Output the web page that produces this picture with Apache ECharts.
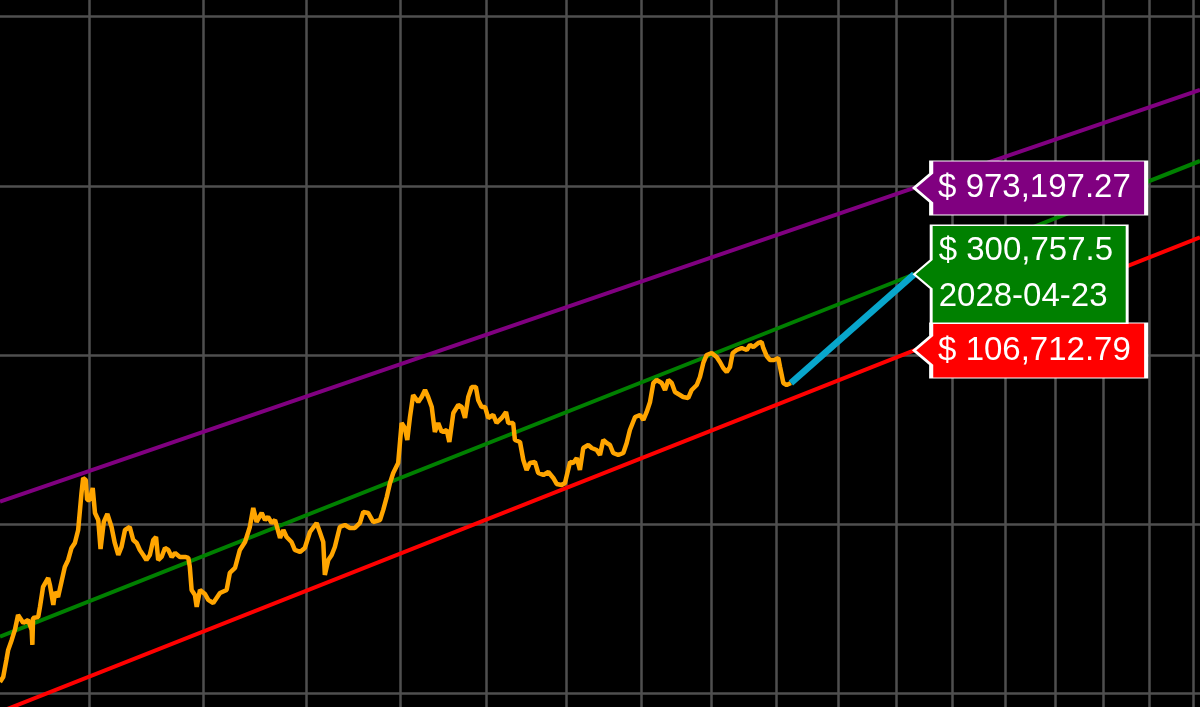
<!DOCTYPE html>
<html>
<head>
<meta charset="utf-8">
<script src="https://cdn.jsdelivr.net/npm/echarts@6/dist/echarts.min.js"></script>
<style>
html,body{margin:0;padding:0;background:#000;}
#chart{width:1200px;height:707px;}
</style>
</head>
<body>
<div id="chart"></div>
<script>
// ---------- data ----------
const GENESIS = '2009-01-03';
// days since genesis block, and BTC price (USD)
const priceDays = [3025,3034,3043,3048,3058,3067,3076,3081,3091,3105,3115,3117,3119,3134,3139,3148,3163,3168,3178,3183,
3192,3202,3212,3222,3232,3242,3252,3262,3267,3275,3279,3287,3296,3303,3313,3320,3330,3341,3354,3364,
3375,3385,3396,3411,3422,3433,3443,3454,3464,3475,3486,3495,3502,3513,3524,3535,3546,3557,3573,3590,
3601,3606,3612,3623,3629,3640,3657,3668,3685,3708,3731,3742,3760,3777,3795,3812,3824,3836,3854,3866,
3877,3890,3902,3920,3932,3944,3962,3974,3993,4011,4030,4055,4067,4080,4086,4099,4112,4124,4143,4163,
4182,4201,4221,4234,4253,4273,4300,4313,4327,4340,4353,4373,4387,4400,4410,4421,4434,4455,4469,4483,
4496,4511,4524,4538,4553,4574,4585,4602,4623,4638,4652,4666,4681,4699,4709,4724,4739,4753,4775,4790,
4813,4832,4842,4864,4872,4895,4910,4925,4940,4963,4978,5002,5025,5048,5064,5087,5103,5127,5142,5159,
5174,5190,5214,5231,5255,5271,5287,5304,5320,5336,5361,5386,5403,5419,5445,5470,5487,5504,5521,5538,
5555,5581,5598,5615,5633,5650,5676,5693,5720,5738,5765,5782,5800,5818,5845,5872,5890,5908,5927,5945,
5960,5982,6010,6038,6056,6075,6103,6122,6131,6150,6169,6192,6217,6227,6246,6265,6290];
const priceUsd = [1173,1255,1582,1812,2077,2380,2917,2840,2617,2726,2380,1940,2800,2840,3255,4270,4825,4390,3345,3990,
3725,4570,5605,6165,7260,7770,9270,15340,18810,18310,13950,13950,16420,11690,10620,7160,10340,11530,9660,7770,
6600,7360,9270,9660,8095,7770,7065,6600,6165,6600,8095,8430,6165,6425,7260,7065,6425,6780,6425,6425,
6335,5605,4100,3830,3255,4100,3880,3580,3435,3935,4100,5165,5530,7065,7875,9660,12510,10340,11690,10620,
11070,10200,10620,8320,9270,8430,7875,7065,6875,7260,9020,10200,9020,7875,5025,6165,6600,7360,9660,9925,
9530,9530,10200,11850,11690,10340,10620,12180,14530,17575,20140,23070,39760,37140,31550,43140,58190,52910,56630,62290,
56630,49430,35170,39760,35170,36140,30700,45550,50790,49430,42555,56630,64885,64885,54370,49430,49430,42555,44330,39760,
42555,46170,39760,39760,31550,30700,24030,20980,23070,23390,20140,19600,20410,18810,17340,17100,17575,23390,23070,24695,
20980,28290,29470,28290,27535,25720,31550,30290,29470,26430,25720,26430,30290,36140,43140,44330,41410,46170,52910,68510,
71370,68510,62290,71370,68510,60620,58190,56630,55870,62290,66675,74345,89930,100270,103040,97580,91165,84035,79570,85190,
103040,107330,110300,107330,114890,111810,118050,119660,110300,98920,93680,93680,96260,85190,68510,66675,68510];

// power-law bands: value at axis start, at target date, at axis end
const targetDate = '2028-04-23';
const axisStartDay = 3025, axisEndDay = 9185;
const supportBand = [780.3, 106712.79, 496300];
const fairBand = [2172.6, 300757.5, 1404700];
const topBand = [13640, 973197.27, 3693600];

// grid: Jan 1 of each year, and price decades
const gridYears = [2018,2019,2020,2021,2022,2023,2024,2025,2026,2027,2028,2029,2030,2031,2032,2033,2034];
const priceGrid = [1e3,1e4,1e5,1e6,1e7];
const priceMin = 834, priceMax = 12555000;

// ---------- build ----------
function dayOf(s){ return Math.round((Date.parse(s) - Date.parse(GENESIS)) / 86400000); }
const yearDays = gridYears.map(y => dayOf(y + '-01-01'));
const targetDay = dayOf(targetDate);
const bandDays = [axisStartDay, targetDay, axisEndDay];
const priceData = priceDays.map((d, i) => [d, priceUsd[i]]);
const lastPt = priceData[priceData.length - 1];

function fmtUsd(v){
  const r = Math.round(v * 100) / 100;
  let [i, f] = String(r).split('.');
  i = i.replace(/\B(?=(\d{3})+(?!\d))/g, ',');
  return '$ ' + i + (f ? '.' + f : '');
}
function tag(value, text, w, h, color){
  const m = h / 2, a = 14.5, t = 17;
  return {
    coord: [targetDay, value],
    symbol: `path://M0,${m}L${t},${m-a}L${t},0L${w},0L${w},${h}L${t},${h}L${t},${m+a}Z`,
    symbolSize: [w, h],
    symbolOffset: [w / 2, 0],
    itemStyle: {color: color, borderColor: '#ffffff', borderWidth: 2},
    label: {show: true, formatter: text, position: 'insideLeft', distance: 26,
      color: '#ffffff', fontSize: 33, lineHeight: 46, fontFamily: 'Liberation Sans, Arial, sans-serif'}
  };
}
function band(name, vals, color, tagText, w, h){
  return {
    name: name, type: 'line', data: bandDays.map((d, i) => [d, vals[i]]),
    showSymbol: false, silent: true, z: 2,
    lineStyle: {color: color, width: 4},
    markPoint: {silent: true, animation: false, data: [tag(vals[1], tagText, w, h, color)]}
  };
}

const chart = echarts.init(document.getElementById('chart'), null, {renderer: 'canvas'});
chart.setOption({
  backgroundColor: '#000000',
  animation: false,
  grid: {left: 0, right: 0, top: 0, bottom: 0, containLabel: false},
  xAxis: {
    type: 'log', logBase: 10, min: axisStartDay, max: axisEndDay,
    axisLine: {show: false}, axisLabel: {show: false},
    axisTick: {show: false, customValues: yearDays},
    splitLine: {show: true, lineStyle: {color: '#4f4f4f', width: 2.5}}
  },
  yAxis: {
    type: 'log', logBase: 10, min: priceMin, max: priceMax,
    axisLine: {show: false}, axisLabel: {show: false},
    axisTick: {show: false, customValues: priceGrid},
    splitLine: {show: true, lineStyle: {color: '#4f4f4f', width: 2.5}}
  },
  series: [
    band('top', topBand, '#800080', fmtUsd(topBand[1]), 232, 54),
    band('support', supportBand, '#ff0000', fmtUsd(supportBand[1]), 232, 55),
    band('fair', fairBand, '#008000', fmtUsd(fairBand[1]) + '\n' + targetDate, 213, 98),
    {name: 'price', type: 'line', data: priceData, showSymbol: false, z: 3,
      lineStyle: {color: '#ffa500', width: 4.5}},
    {name: 'projection', type: 'line', data: [lastPt, [targetDay, fairBand[1]]], showSymbol: false, z: 4,
      lineStyle: {color: '#08a6cc', width: 6.5}}
  ]
});
</script>
</body>
</html>
